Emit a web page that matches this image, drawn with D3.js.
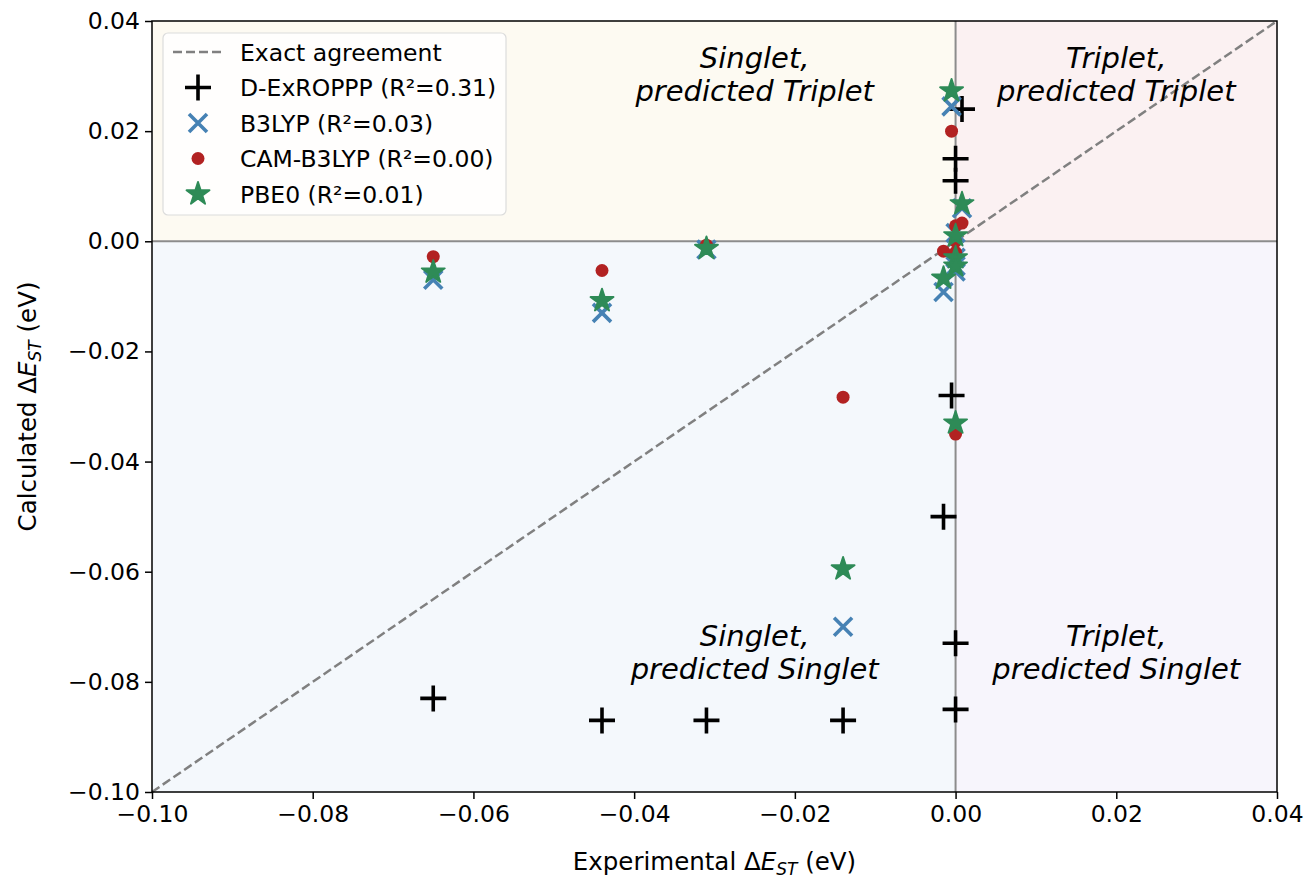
<!DOCTYPE html>
<html>
<head>
<meta charset="utf-8">
<script src="https://cdn.jsdelivr.net/npm/d3@7"></script>
<style>
  body { margin: 0; background: #fff; }
  svg text { font-family: "DejaVu Sans", sans-serif; }
</style>
</head>
<body>
<div id="container"></div>
<script>
/* CONSTANTS AND GLOBALS */
const width = 1307,
  height = 883,
  margin = { top: 21, bottom: 91, left: 152, right: 30 };

/* DATA */
// experimental dEST for each molecule
const expX = [-0.065, -0.044, -0.031, -0.014, -0.0015, -0.0005, 0, 0, 0, 0, 0.0008];
// calculated dEST per method
const dexroppp = [-0.083, -0.087, -0.087, -0.087, -0.050, -0.028, -0.073, -0.085, 0.011, 0.015, 0.024];
const b3lyp = [-0.007, -0.013, -0.0015, -0.070, -0.0092, 0.0245, -0.0055, 0.0015, -0.0045, -0.003, 0.006];
const camb3lyp = [-0.0028, -0.0053, -0.0007, -0.0283, -0.0018, 0.020, -0.035, 0.0028, 0.0, -0.002, 0.0033];
const pbe0 = [-0.0056, -0.0108, -0.0013, -0.0595, -0.0067, 0.0273, -0.033, 0.001, -0.003, -0.0045, 0.0068];

const seriesNames = ["D-ExROPPP (R²=0.31)", "B3LYP (R²=0.03)", "CAM-B3LYP (R²=0.00)", "PBE0 (R²=0.01)"];
const xTicks = [-0.10, -0.08, -0.06, -0.04, -0.02, 0.00, 0.02, 0.04];
const yTicks = [-0.10, -0.08, -0.06, -0.04, -0.02, 0.00, 0.02, 0.04];
const quadrantLabels = [
  { x: -0.025, y: 0.0315, lines: ["Singlet,", "predicted Triplet"] },
  { x: 0.02, y: 0.0315, lines: ["Triplet,", "predicted Triplet"] },
  { x: -0.025, y: -0.0735, lines: ["Singlet,", "predicted Singlet"] },
  { x: 0.02, y: -0.0735, lines: ["Triplet,", "predicted Singlet"] }
];

/* SCALES */
const xScale = d3.scaleLinear()
  .domain([-0.10, 0.04])
  .range([margin.left, width - margin.right]);

const yScale = d3.scaleLinear()
  .domain([-0.10, 0.04])
  .range([height - margin.bottom, margin.top]);

const fmt = d => d3.format(".2f")(d).replace("-", "−");

/* SVG */
const svg = d3.select("#container")
  .append("svg")
  .attr("width", width)
  .attr("height", height);

// quadrant backgrounds
const quads = [
  { x0: -0.10, x1: 0, y0: 0, y1: 0.04, fill: "#fdfaf2" },
  { x0: 0, x1: 0.04, y0: 0, y1: 0.04, fill: "#fbf1f2" },
  { x0: -0.10, x1: 0, y0: -0.10, y1: 0, fill: "#f4f8fc" },
  { x0: 0, x1: 0.04, y0: -0.10, y1: 0, fill: "#f7f5fc" }
];
svg.selectAll(".quad")
  .data(quads)
  .join("rect")
  .attr("x", d => xScale(d.x0))
  .attr("y", d => yScale(d.y1))
  .attr("width", d => xScale(d.x1) - xScale(d.x0))
  .attr("height", d => yScale(d.y0) - yScale(d.y1))
  .attr("fill", d => d.fill);

// zero lines
svg.append("line")
  .attr("x1", xScale(0)).attr("x2", xScale(0))
  .attr("y1", yScale(-0.10)).attr("y2", yScale(0.04))
  .attr("stroke", "#8c8c8c").attr("stroke-width", 2);
svg.append("line")
  .attr("x1", xScale(-0.10)).attr("x2", xScale(0.04))
  .attr("y1", yScale(0)).attr("y2", yScale(0))
  .attr("stroke", "#8c8c8c").attr("stroke-width", 2);

// exact agreement diagonal
svg.append("line")
  .attr("x1", xScale(-0.10)).attr("y1", yScale(-0.10))
  .attr("x2", xScale(0.04)).attr("y2", yScale(0.04))
  .attr("stroke", "#808080").attr("stroke-width", 2.5)
  .attr("stroke-dasharray", "9,4");

// quadrant labels
quadrantLabels.forEach(q => {
  const t = svg.append("text")
    .attr("x", xScale(q.x))
    .attr("y", yScale(q.y))
    .attr("text-anchor", "middle")
    .attr("font-size", 29)
    .attr("font-style", "italic");
  q.lines.forEach((l, i) => {
    t.append("tspan")
      .attr("x", xScale(q.x))
      .attr("dy", i === 0 ? 0 : 33)
      .text(l);
  });
});

/* MARKERS */
const plusPath = s => `M${-s},0H${s}M0,${-s}V${s}`;
const crossPath = s => `M${-s},${-s}L${s},${s}M${-s},${s}L${s},${-s}`;
const starPath = d3.symbol(d3.symbolStar, 165)();

function drawPlus(g, size) {
  g.append("path").attr("d", plusPath(size)).attr("stroke", "#000").attr("stroke-width", 3.6).attr("fill", "none");
}
function drawCross(g, size) {
  g.append("path").attr("d", crossPath(size)).attr("stroke", "#4682b4").attr("stroke-width", 3.6).attr("fill", "none");
}
function drawDot(g, r) {
  g.append("circle").attr("r", r).attr("fill", "#b22222");
}
function drawStar(g) {
  g.append("path").attr("d", starPath).attr("fill", "#2e8b57")
    .attr("stroke", "#2e8b57").attr("stroke-width", 1.8).attr("stroke-linejoin", "round");
}

const pts = (ys) => expX.map((x, i) => ({ x: x, y: ys[i] }));

svg.append("g").selectAll("g")
  .data(pts(dexroppp)).join("g")
  .attr("transform", d => `translate(${xScale(d.x)},${yScale(d.y)})`)
  .each(function() { drawPlus(d3.select(this), 13); });

svg.append("g").selectAll("g")
  .data(pts(b3lyp)).join("g")
  .attr("transform", d => `translate(${xScale(d.x)},${yScale(d.y)})`)
  .each(function() { drawCross(d3.select(this), 9); });

svg.append("g").selectAll("g")
  .data(pts(camb3lyp)).join("g")
  .attr("transform", d => `translate(${xScale(d.x)},${yScale(d.y)})`)
  .each(function() { drawDot(d3.select(this), 6.5); });

svg.append("g").selectAll("g")
  .data(pts(pbe0)).join("g")
  .attr("transform", d => `translate(${xScale(d.x)},${yScale(d.y)})`)
  .each(function() { drawStar(d3.select(this)); });

/* AXES */
const xAxis = d3.axisBottom(xScale).tickValues(xTicks).tickFormat(fmt).tickSize(7).tickPadding(6);
const yAxis = d3.axisLeft(yScale).tickValues(yTicks).tickFormat(fmt).tickSize(7).tickPadding(5);

const gx = svg.append("g")
  .attr("transform", `translate(0,${height - margin.bottom})`)
  .call(xAxis);
const gy = svg.append("g")
  .attr("transform", `translate(${margin.left},0)`)
  .call(yAxis);
[gx, gy].forEach(g => {
  g.select(".domain").remove();
  g.selectAll("line").attr("stroke", "#000").attr("stroke-width", 1.5);
  g.selectAll("text").attr("font-size", 23.5).attr("fill", "#000")
    .style("font-family", "DejaVu Sans, sans-serif");
});

// frame
svg.append("rect")
  .attr("x", margin.left).attr("y", margin.top)
  .attr("width", width - margin.left - margin.right)
  .attr("height", height - margin.top - margin.bottom)
  .attr("fill", "none").attr("stroke", "#000").attr("stroke-width", 1.5);

// axis labels
function axisLabel(t, word) {
  t.append("tspan").text(word + " Δ");
  t.append("tspan").attr("font-style", "italic").text("E");
  t.append("tspan").attr("font-style", "italic").attr("font-size", 17).attr("dy", 5).text("ST");
  t.append("tspan").attr("dy", -5).text(" (eV)");
}
const xl = svg.append("text")
  .attr("x", (margin.left + width - margin.right) / 2)
  .attr("y", 870)
  .attr("text-anchor", "middle")
  .attr("font-size", 24.5);
axisLabel(xl, "Experimental");

const yl = svg.append("text")
  .attr("transform", `translate(36,${(margin.top + height - margin.bottom) / 2}) rotate(-90)`)
  .attr("text-anchor", "middle")
  .attr("font-size", 24.5);
axisLabel(yl, "Calculated");

/* LEGEND */
const legend = svg.append("g").attr("transform", "translate(163,33)");
legend.append("rect")
  .attr("width", 343).attr("height", 182)
  .attr("rx", 5)
  .attr("fill", "#fff").attr("fill-opacity", 0.8)
  .attr("stroke", "#dcdcdc").attr("stroke-width", 1.2);

const legendItems = ["Exact agreement"].concat(seriesNames);
legendItems.forEach((name, i) => {
  const row = legend.append("g").attr("transform", `translate(0,${19 + i * 35.5})`);
  const m = row.append("g").attr("transform", "translate(35,0)");
  if (i === 0) {
    m.append("line").attr("x1", -25).attr("x2", 25)
      .attr("stroke", "#808080").attr("stroke-width", 2.5).attr("stroke-dasharray", "9,4");
  } else if (i === 1) drawPlus(m, 13);
  else if (i === 2) drawCross(m, 9);
  else if (i === 3) drawDot(m, 6.5);
  else drawStar(m);
  row.append("text")
    .attr("x", 77).attr("y", 8.5)
    .attr("font-size", 23.5)
    .text(name);
});
</script>
</body>
</html>
